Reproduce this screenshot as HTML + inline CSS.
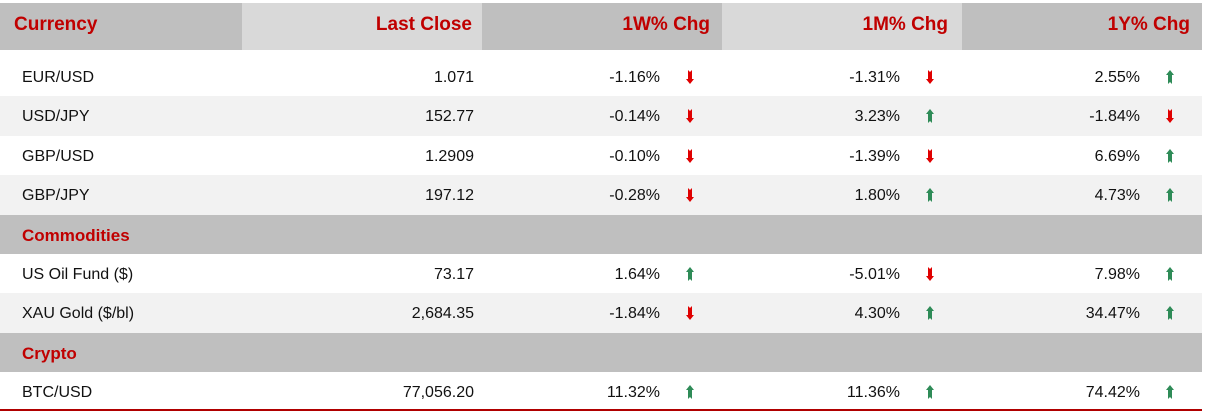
<!DOCTYPE html>
<html><head><meta charset="utf-8"><style>
body{margin:0;width:1205px;height:417px;background:#fff;font-family:"Liberation Sans",sans-serif;position:relative;overflow:hidden}
.a{position:absolute;white-space:nowrap}
.h{font-weight:bold;font-size:19px;color:#c00000}
.t{font-size:16px;color:#111}
.s{font-weight:bold;font-size:17px;color:#c00000}
</style></head><body>
<div id="root"></div>
<script>
const headers=["Currency","Last Close","1W% Chg","1M% Chg","1Y% Chg"];
const names=["EUR/USD","USD/JPY","GBP/USD","GBP/JPY","Commodities","US Oil Fund ($)","XAU Gold ($/bl)","Crypto","BTC/USD"];
const closes=["1.071","152.77","1.2909","197.12","","73.17","2,684.35","","77,056.20"];
const w1=[-1.16,-0.14,-0.10,-0.28,null,1.64,-1.84,null,11.32];
const m1=[-1.31,3.23,-1.39,1.80,null,-5.01,4.30,null,11.36];
const y1=[2.55,-1.84,6.69,4.73,null,7.98,34.47,null,74.42];

const root=document.getElementById('root');
function mk(cls,style,txt){const d=document.createElement('div');d.className='a '+cls;d.style.cssText=style;if(txt!=null)d.textContent=txt;root.appendChild(d);return d;}
const colX=[0,242,482,722,962,1202];
const hdrBg=['#bfbfbf','#d9d9d9','#bfbfbf','#d9d9d9','#bfbfbf'];
const hdrRight=[null,472,710,948,1190];
headers.forEach((h,i)=>{
  const b=mk('','left:'+colX[i]+'px;top:3px;width:'+(colX[i+1]-colX[i])+'px;height:47px;background:'+hdrBg[i]);
  
  
  const st=i==0?'left:14px;top:14px':'right:'+(1205-hdrRight[i])+'px;top:14px';
  const t=mk('h',st,h);
  
  
});
const top0=57,rh=39.4;
let alt=0;
names.forEach((n,r)=>{
  const y=top0+r*rh;
  const sec=closes[r]==='';
  let bg=sec?'#bfbfbf':(alt++%2?'#f2f2f2':'#fff');
  const row=mk('','left:0;top:'+y+'px;width:1202px;height:'+(rh+0.5)+'px;background:'+bg);
  
  
  if(sec){alt=0;const s=mk('s','left:22px;top:'+(y+11)+'px',n);
    
    return;}
  const l=mk('t','left:22px;top:'+(y+12)+'px',n);
  
  
  const c=mk('t','right:'+(1205-474)+'px;top:'+(y+12)+'px',closes[r]);
  
  
  [[w1,660,690],[m1,900,930],[y1,1140,1170]].forEach(([arr,rx,ax],k)=>{
    const v=arr[r];
    const p=mk('t','right:'+(1205-rx)+'px;top:'+(y+12)+'px',v.toFixed(2)+'%');
    
    
    const up=v>=0;
    const col=up?'#2e8b57':'#e00000';
    const svg=document.createElementNS('http://www.w3.org/2000/svg','svg');
    svg.setAttribute('width','10');svg.setAttribute('height','14');
    svg.style.cssText='position:absolute;left:'+(ax-5)+'px;top:'+(y+13)+'px';
    svg.innerHTML=up?'<path d="M5 0 L9 5 L7 5 L7 14 L5 12 L3 14 L3 5 L1 5Z" fill="'+col+'"/>':'<path d="M3 0 L5 2 L7 0 L7 9 L9 9 L5 14 L1 9 L3 9Z" fill="'+col+'"/>';
    
    
    root.appendChild(svg);
  });
});
const line=mk('','left:0;top:409px;width:1202px;height:2px;background:#b00000');


</script>
</body></html>
